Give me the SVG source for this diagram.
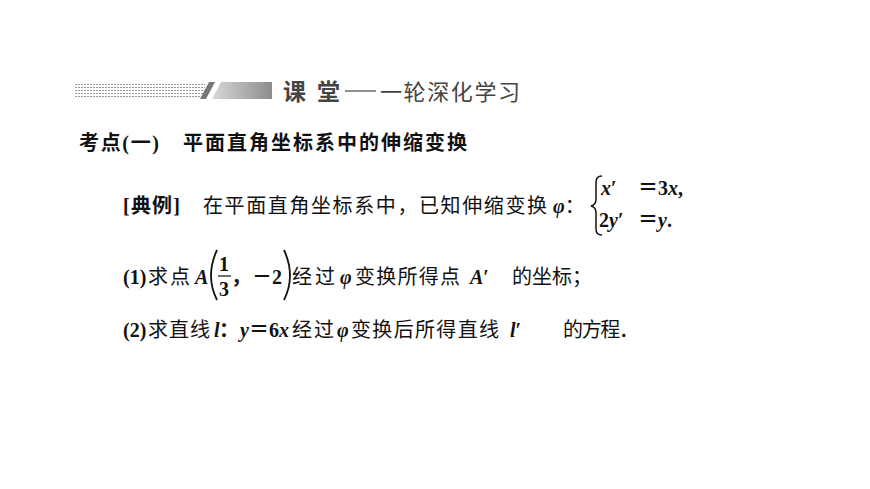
<svg xmlns="http://www.w3.org/2000/svg" width="870" height="489" viewBox="0 0 870 489">
<defs>
<pattern id="dots" width="3" height="3" patternUnits="userSpaceOnUse"><rect width="2" height="1" fill="#9a9a9a"/></pattern>
<linearGradient id="g" x1="0" x2="1"><stop offset="0" stop-color="#d8d8d8"/><stop offset="1" stop-color="#8c8c8c"/></linearGradient>
</defs>
<style>
.cn{font-family:"Liberation Serif","Noto Sans CJK SC",serif;font-size:20px;fill:#111}
.b{font-weight:bold}
.i{font-style:italic}
.h{font-family:"Noto Sans CJK SC",sans-serif;fill:#444}
</style>
<rect width="870" height="489" fill="#fff"/>
<g id="header">
<rect x="75" y="82" width="130" height="17" fill="url(#dots)"/>
<polygon points="200,99 209,82 215,82 206,99" fill="#777"/>
<polygon points="212,99 221,82 272,82 272,99" fill="url(#g)"/>
<text x="283" y="100" class="h b" font-size="23" textLength="57">课 堂</text>
<line x1="345" y1="91" x2="376" y2="91" stroke="#555" stroke-width="1.3"/>
<text x="380" y="100" class="h" font-size="22" textLength="140">一轮深化学习</text>
</g>
<g id="title">
<text x="79" y="150" class="cn b" font-size="21" textLength="80">考点(一)</text>
<text x="183" y="150" class="cn b" font-size="21.5" textLength="284">平面直角坐标系中的伸缩变换</text>
</g>
<g id="example">
<text x="123" y="213" class="cn b" textLength="57">[典例]</text>
<text x="203" y="213" class="cn" font-size="21.5" textLength="344">在平面直角坐标系中，已知伸缩变换</text>
<text x="553" y="213" class="cn"><tspan class="i b">φ</tspan>：</text>
<path d="M602,176 Q596,176 596,182 L596,199 Q596,205 591,206 Q596,207 596,213 L596,229 Q596,235 602,235" fill="none" stroke="#111" stroke-width="1.5"/>
<text x="601" y="195" class="cn b"><tspan class="i">x</tspan>′</text>
<text x="638" y="195" class="cn b">＝3<tspan class="i">x</tspan>,</text>
<text x="599" y="227" class="cn b">2<tspan class="i">y</tspan>′</text>
<text x="638" y="227" class="cn b">＝<tspan class="i">y</tspan>.</text>
</g>
<g id="q1">
<text x="123" y="284" class="cn b">(1)</text>
<text x="148" y="284" class="cn" font-size="21" textLength="42">求点</text>
<text x="195" y="284" class="cn b i">A</text>
<path d="M217,250 Q205,276 217,300" fill="none" stroke="#111" stroke-width="1.8"/>
<text x="219" y="271" class="cn b">1</text>
<line x1="218" y1="276" x2="231" y2="276" stroke="#111" stroke-width="1.2"/>
<text x="219" y="296" class="cn b">3</text>
<text x="231" y="284" class="cn b">，</text>
<text x="252" y="284" class="cn b">－2</text>
<path d="M284,250 Q296,276 284,300" fill="none" stroke="#111" stroke-width="1.8"/>
<text x="292" y="284" class="cn" font-size="21" textLength="43">经过</text>
<text x="340" y="284" class="cn b i">φ</text>
<text x="355" y="284" class="cn" font-size="21" textLength="105">变换所得点</text>
<text x="470" y="284" class="cn b"><tspan class="i">A</tspan>′</text>
<text x="512" y="284" class="cn" font-size="21" textLength="80">的坐标；</text>
</g>
<g id="q2">
<text x="123" y="337" class="cn b">(2)</text>
<text x="148" y="337" class="cn" font-size="21" textLength="62">求直线</text>
<text x="214" y="337" class="cn b i">l</text>
<text x="219" y="337" class="cn b" font-size="14">：</text>
<text x="240" y="337" class="cn b"><tspan class="i">y</tspan>＝6<tspan class="i">x</tspan></text>
<text x="292" y="337" class="cn" font-size="21" textLength="42">经过</text>
<text x="337" y="337" class="cn b i">φ</text>
<text x="351" y="337" class="cn" font-size="21" textLength="148">变换后所得直线</text>
<text x="510" y="337" class="cn b"><tspan class="i">l</tspan>′</text>
<text x="563" y="337" class="cn" font-size="21" textLength="76">的方程．</text>
</g>
</svg>
